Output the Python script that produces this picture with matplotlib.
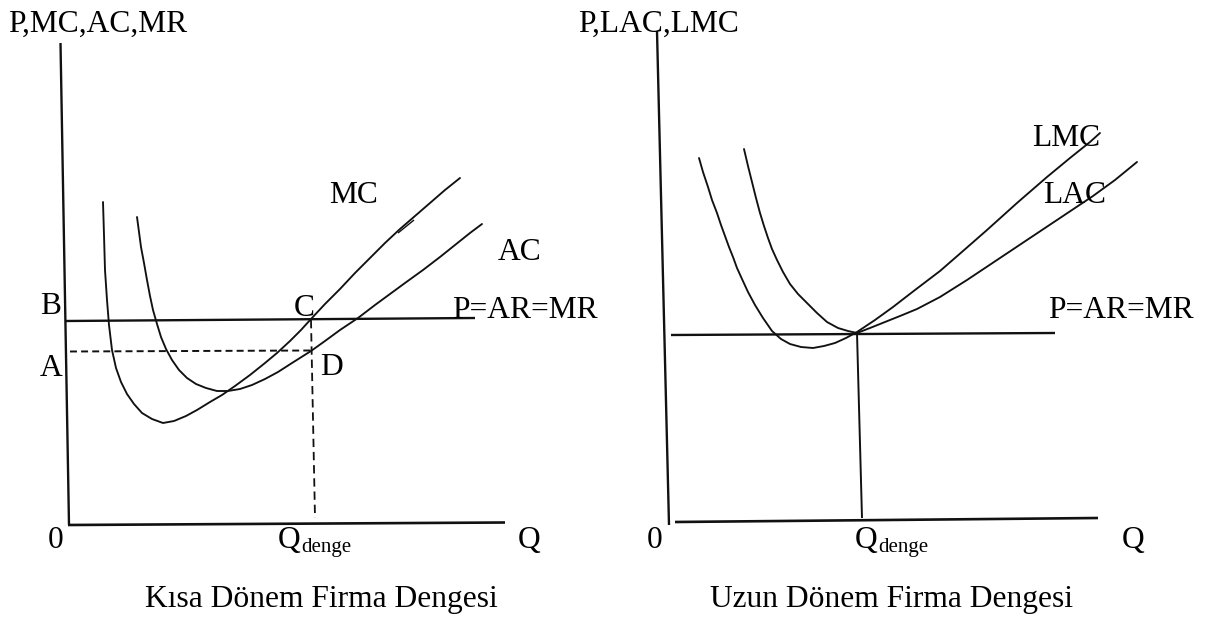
import matplotlib
matplotlib.use("Agg")
import matplotlib.pyplot as plt

# all values are in picture units (x to the right, y downwards)

# short run (left panel)
mc_q = [103, 104, 105, 107, 109, 112, 116, 121, 127, 134, 142, 152, 163, 174,
        186, 197, 210, 222, 235, 250, 265, 277, 290, 301, 311, 325, 340, 355,
        370, 385, 400, 415, 430, 445, 460]
mc_p = [202, 235, 270, 300, 325, 350, 368, 382, 394, 404, 413, 419, 423, 421,
        416, 410, 402, 395, 386, 375, 363, 353, 341, 330, 319, 304, 289, 273,
        258, 243, 229, 216, 203, 190, 178]
mc_glitch = [(398, 233), (414, 220)]
ac_q = [137, 139, 141, 144, 147, 150, 153, 157, 161, 166, 172, 179, 187, 196,
        206, 217, 228, 240, 252, 265, 278, 292, 311, 325, 340, 358, 375, 390,
        405, 423, 440, 455, 470, 482]
ac_p = [217, 232, 247, 263, 280, 296, 310, 324, 337, 349, 360, 370, 378, 384,
        388, 391, 391, 389, 385, 379, 372, 363, 351, 341, 330, 318, 305, 294,
        283, 270, 257, 245, 233, 224]
sr_price = [(65, 321), (475, 318)]      # P=AR=MR
sr_cost = [(70, 351.5), (311, 350.5)]   # A - D
sr_qline = [(311, 320), (315, 518)]     # C - Qdenge
sr_yaxis = [(60.5, 43), (69, 525)]
sr_xaxis = [(68, 525), (505, 522.5)]

# long run (right panel)
lmc_q = [699, 703, 708, 712, 717, 721, 725, 729, 733, 737, 742, 748, 755, 763,
         772, 781, 790, 801, 813, 824, 835, 846, 857, 875, 893, 915, 940, 963,
         987, 1017, 1047, 1070, 1090, 1100]
lmc_p = [158, 172, 187, 200, 213, 225, 236, 247, 257, 268, 279, 292, 305, 318,
         331, 339, 344, 347, 348, 346, 343, 338, 332, 320, 307, 290, 271, 251,
         230, 203, 177, 158, 142, 133]
lac_q = [744, 748, 752, 756, 760, 764, 768, 772, 777, 783, 790, 798, 807, 817,
         827, 838, 848, 857, 870, 885, 900, 917, 940, 967, 1000, 1033, 1063,
         1093, 1115, 1137]
lac_p = [149, 166, 182, 198, 213, 226, 238, 249, 260, 272, 284, 294, 303, 313,
         322, 328, 331, 333, 328, 322, 316, 309, 297, 280, 258, 236, 216, 196,
         180, 162]
lr_price = [(671, 335), (1055, 333)]
lr_qline = [(857, 333), (862, 518)]
lr_yaxis = [(657, 31), (669, 525)]
lr_xaxis = [(675, 522), (1098, 518)]

SERIF = ['Liberation Serif', 'DejaVu Serif']
FS = 22.7
SUB = 15
INK = '#111111'

plt.rcParams['lines.scale_dashes'] = False

fig = plt.figure(figsize=(12.05, 6.21), dpi=100)
ax = fig.add_axes([0, 0, 1, 1])
ax.set_xlim(0, 1205)
ax.set_ylim(621, 0)
ax.axis('off')


def seg(pts, lw=1.5, **kw):
    xs = [p[0] for p in pts]
    ys = [p[1] for p in pts]
    return ax.plot(xs, ys, color=INK, lw=lw, solid_capstyle='butt', **kw)


def curve(xs, ys):
    ax.plot(xs, ys, color=INK, lw=1.35, solid_joinstyle='round',
            solid_capstyle='round')


def label(x, y, s, size=FS):
    ax.text(x, y, s, fontsize=size, family=SERIF, color='black',
            ha='left', va='baseline')


# left panel
seg(sr_yaxis, lw=1.7)
seg(sr_xaxis, lw=1.9)
seg(sr_price, lw=1.7)
seg(sr_cost, lw=1.4, dashes=(5, 3))
seg(sr_qline, lw=1.3, dashes=(6, 3.5))
curve(mc_q, mc_p)
curve(ac_q, ac_p)
seg(mc_glitch, lw=1.0)

label(8, 31.5, 'P,MC,AC,MR')
label(329, 203, 'MC')
label(498, 260, 'AC')
label(452, 318, 'P=AR=MR')
label(40, 314, 'B')
label(294, 316.5, 'C')
label(40, 375.5, 'A')
label(320, 375, 'D')
label(48, 548, '0')
label(278, 548, 'Q')
label(301, 552, 'denge', size=SUB)
label(518, 548, 'Q')
label(145, 606.5, 'Kısa Dönem Firma Dengesi')

# right panel
seg(lr_yaxis, lw=1.7)
seg(lr_xaxis, lw=1.9)
seg(lr_price, lw=1.7)
seg(lr_qline, lw=1.4)
curve(lmc_q, lmc_p)
curve(lac_q, lac_p)

label(578, 31.5, 'P,LAC,LMC')
label(1032, 146.5, 'LMC')
label(1043, 203, 'LAC')
label(1048, 318, 'P=AR=MR')
label(647, 548, '0')
label(855, 548, 'Q')
label(878, 552, 'denge', size=SUB)
label(1122, 548, 'Q')
label(710, 606.5, 'Uzun Dönem Firma Dengesi')

fig.savefig('out.png', dpi=100)
